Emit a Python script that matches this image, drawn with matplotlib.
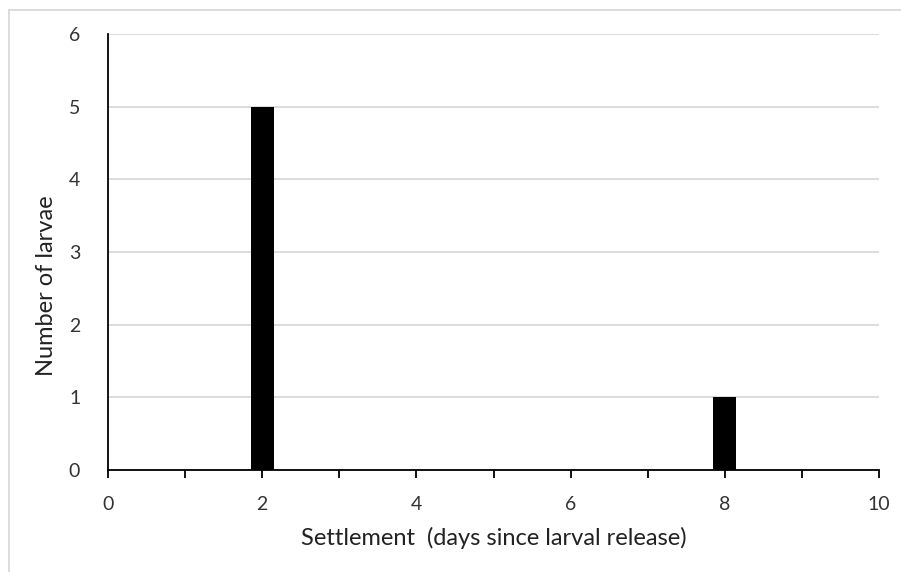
import matplotlib
matplotlib.use("Agg")
import matplotlib.pyplot as plt
from matplotlib.lines import Line2D

days = [0, 1, 2, 3, 4, 5, 6, 7, 8, 9, 10]
counts = [0, 0, 5, 0, 0, 0, 0, 0, 1, 0, 0]
x_ticklabels = ["0", "", "2", "", "4", "", "6", "", "8", "", "10"]
y_ticks = [0, 1, 2, 3, 4, 5, 6]

plt.rcParams['font.family'] = ['Lato', 'DejaVu Sans']

W, H = 901, 572
fig = plt.figure(figsize=(W/100, H/100), dpi=100)
ax = fig.add_axes([108/W, 1-470/H, (879-108)/W, (470-34)/H])

ax.bar(days, counts, width=0.3, color='black', zorder=3)
ax.set_xlim(0, 10)
ax.set_ylim(0, 6)
ax.set_xticks(days)
ax.set_xticklabels(x_ticklabels)
ax.set_yticks(y_ticks)
ax.yaxis.grid(True, color='#d9d9d9', linewidth=1.3, zorder=0)
ax.set_axisbelow(True)
for s in ['top', 'right']:
    ax.spines[s].set_visible(False)
ax.spines['left'].set_color('black')
ax.spines['bottom'].set_color('black')
ax.spines['left'].set_linewidth(1.3)
ax.spines['bottom'].set_linewidth(1.3)
ax.tick_params(axis='x', direction='out', length=6, width=1.3, colors='black',
               labelcolor='#333333', labelsize=14, pad=13)
ax.tick_params(axis='y', length=0, labelcolor='#333333', labelsize=14, pad=20)
ax.set_xlabel("Settlement  (days since larval release)", fontsize=17, color='#222222', va='center')
ax.set_ylabel("Number of larvae", fontsize=17, color='#222222', va='center')
ax.xaxis.set_label_coords(494/W, 1-538/H, transform=fig.transFigure)
ax.yaxis.set_label_coords(47/W, 1-286/H, transform=fig.transFigure)

fig.add_artist(Line2D([9/W, 1], [1-10/H, 1-10/H], color='#d9d9d9', linewidth=1.3,
                      transform=fig.transFigure))
fig.add_artist(Line2D([9/W, 9/W], [0, 1-10/H], color='#d9d9d9', linewidth=1.3,
                      transform=fig.transFigure))

fig.savefig("out.png", dpi=100)
